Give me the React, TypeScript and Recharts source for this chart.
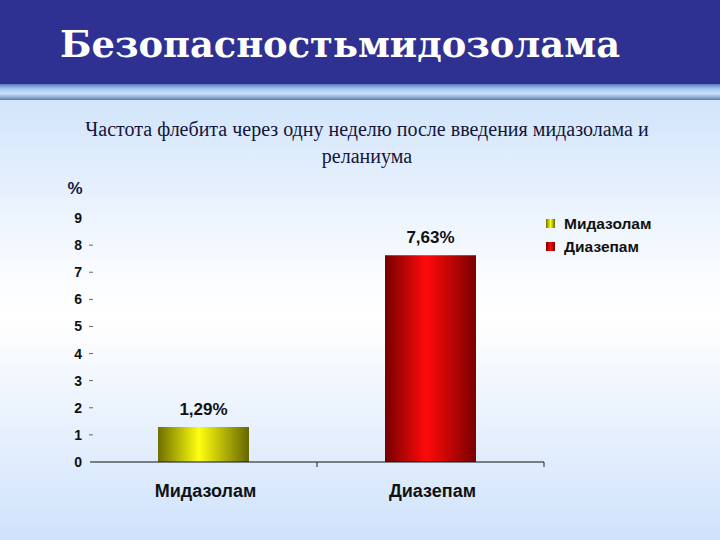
import React from "react";
import { Bar, BarChart, Cell, LabelList, XAxis, YAxis } from "recharts";

// data
const categories = ["Мидазолам", "Диазепам"];
const values = [1.29, 7.63];
const yTicks = [0, 1, 2, 3, 4, 5, 6, 7, 8, 9];

const title = "Безопасностьмидозолама";
const subtitleLines = [
  "Частота флебита через одну неделю после введения мидазолама и",
  "реланиума",
];

const barGradients = [
  { id: "gradYellow", edgeL: "#6f6f00", mid: "#ffff10", edgeR: "#666600" },
  { id: "gradRed", edgeL: "#750000", mid: "#ff0a0a", edgeR: "#7a0000" },
];

const chartData = categories.map((name, i) => ({
  name,
  value: values[i],
  label: values[i].toFixed(2).replace(".", ",") + "%",
}));

const FONT = "Arial, 'Liberation Sans', sans-serif";

function YTick({ x, y, payload }: any) {
  const v = Number(payload.value);
  return (
    <g>
      <text
        x={x}
        y={y}
        dy={5}
        textAnchor="end"
        fontFamily={FONT}
        fontWeight="bold"
        fontSize={14}
        fill="#111"
      >
        {payload.value}
      </text>
      {v > 0 && v < 9 && (
        <line x1={x + 7} x2={x + 11} y1={y} y2={y} stroke="#666" strokeWidth={1} />
      )}
    </g>
  );
}

function XTick({ x, y, payload }: any) {
  const half = payload.offset ?? 113.5;
  const axisY = y - 8;
  return (
    <g>
      <line x1={x + half} x2={x + half} y1={axisY} y2={axisY + 5} stroke="#222" />
      <text
        x={x + 2}
        y={y}
        dy={27}
        textAnchor="middle"
        fontFamily={FONT}
        fontWeight="bold"
        fontSize={18}
        fill="#111"
      >
        {payload.value}
      </text>
    </g>
  );
}

export default function App() {
  return (
    <div
      style={{
        position: "absolute",
        left: 0,
        top: 0,
        width: 720,
        height: 540,
        overflow: "hidden",
      }}
    >
      <svg width={720} height={540} style={{ position: "absolute", left: 0, top: 0 }}>
        <defs>
          <linearGradient id="band" x1="0" y1="0" x2="0" y2="1">
            <stop offset="0" stopColor="#5a78c4" />
            <stop offset="0.3" stopColor="#a8c8f2" />
            <stop offset="0.6" stopColor="#c9e0fa" />
            <stop offset="0.8" stopColor="#98b3da" />
            <stop offset="1" stopColor="#5d77a6" />
          </linearGradient>
          <linearGradient id="panel" x1="0" y1="0" x2="0" y2="1">
            <stop offset="0" stopColor="#d2e5fb" />
            <stop offset="0.4" stopColor="#fafcff" />
            <stop offset="0.5" stopColor="#ffffff" />
            <stop offset="1" stopColor="#cfe2fb" />
          </linearGradient>
        </defs>
        <rect x={0} y={0} width={720} height={85} fill="#2e3192" />
        <rect x={0} y={84} width={720} height={16} fill="url(#band)" />
        <rect x={0} y={100} width={720} height={440} fill="url(#panel)" />
        <text
          x={60}
          y={57}
          fill="#fff"
          fontFamily="'DejaVu Serif', serif"
          fontWeight="bold"
          fontSize={37}
          textLength={560}
          lengthAdjust="spacingAndGlyphs"
        >
          {title}
        </text>
        {subtitleLines.map((line, i) => (
          <text
            key={i}
            x={367}
            y={136 + i * 27}
            textAnchor="middle"
            fill="#14143c"
            fontFamily="'Liberation Serif', 'Times New Roman', serif"
            fontSize={20}
          >
            {line}
          </text>
        ))}
        <text x={75} y={194} textAnchor="middle" fill="#1a1a40" fontFamily={FONT} fontWeight="bold" fontSize={17}>
          %
        </text>
      </svg>

      <div style={{ position: "absolute", left: 0, top: 0 }}>
        <BarChart
          width={720}
          height={540}
          data={chartData}
          margin={{ top: 218, right: 176, bottom: 48, left: 0 }}
        >
          <defs>
            {barGradients.map((g) => (
              <linearGradient key={g.id} id={g.id} x1="0" y1="0" x2="1" y2="0">
                <stop offset="0" stopColor={g.edgeL} />
                <stop offset="0.45" stopColor={g.mid} />
                <stop offset="1" stopColor={g.edgeR} />
              </linearGradient>
            ))}
          </defs>
          <XAxis
            dataKey="name"
            height={30}
            axisLine={{ stroke: "#111", strokeWidth: 1 }}
            tickLine={false}
            tick={<XTick />}
            interval={0}
          />
          <YAxis
            width={90}
            domain={[0, 9]}
            ticks={yTicks}
            interval={0}
            axisLine={false}
            tickLine={false}
            tick={<YTick />}
          />
          <Bar dataKey="value" barSize={91} isAnimationActive={false}>
            {chartData.map((d, i) => (
              <Cell key={d.name} fill={`url(#${barGradients[i].id})`} />
            ))}
            <LabelList
              dataKey="label"
              position="top"
              offset={12}
              fill="#111"
              fontFamily={FONT}
              fontWeight="bold"
              fontSize={17}
            />
          </Bar>
        </BarChart>
      </div>

      <div style={{ position: "absolute", left: 546, top: 212, fontFamily: FONT }}>
        {categories.map((name, i) => {
          const g = barGradients[i];
          return (
            <div
              key={name}
              style={{ display: "flex", alignItems: "center", height: 23, fontSize: 15.5, fontWeight: "bold", color: "#111" }}
            >
              <span
                style={{
                  display: "inline-block",
                  width: 9,
                  height: 9,
                  marginRight: 9,
                  background: `linear-gradient(to right, ${g.edgeL}, ${g.mid}, ${g.edgeR})`,
                }}
              />
              {name}
            </div>
          );
        })}
      </div>
    </div>
  );
}
